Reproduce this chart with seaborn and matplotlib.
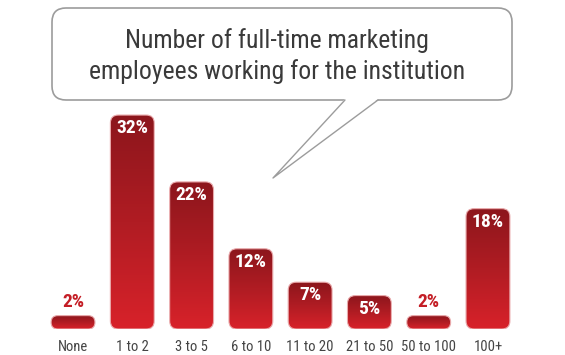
import numpy as np
import pandas as pd
import seaborn as sns
import matplotlib.pyplot as plt
from matplotlib.patches import FancyBboxPatch, Polygon
from matplotlib.colors import LinearSegmentedColormap

categories = ["None", "1 to 2", "3 to 5", "6 to 10", "11 to 20", "21 to 50", "50 to 100", "100+"]
percentValues = [2, 32, 22, 12, 7, 5, 2, 18]
percentLabels = ["2%", "32%", "22%", "12%", "7%", "5%", "2%", "18%"]
titleLines = "Number of full-time marketing\nemployees working for the institution"

narrowFont = ["Roboto Condensed", "DejaVu Sans"]
figW, figH = 565, 355
dpi = 100

sns.set_theme(style = "white")
plt.rcParams["font.family"] = narrowFont

dataFrame = pd.DataFrame({"category" : categories, "percent" : percentValues})

fig = plt.figure(figsize = (figW / dpi, figH / dpi), dpi = dpi)

# bar axes, placed in pixels
axLeft, axRight = 43.4, 517.6
axBottom = 329
axHeightPx = 234
yMax = 35
ax = fig.add_axes([axLeft / figW, 1 - axBottom / figH, (axRight - axLeft) / figW, axHeightPx / figH])

sns.barplot(data = dataFrame, x = "category", y = "percent", ax = ax, width = 0.74, color = "#c01f26")
ax.set_xlim(-0.5, len(categories) - 0.5)
ax.set_ylim(0, yMax)
ax.set_xlabel("")
ax.set_ylabel("")
ax.set_yticks([])
for spine in ax.spines.values() :
    spine.set_visible(False)
ax.tick_params(axis = "x", length = 0, pad = 8, labelsize = 10.5, labelcolor = "#444444")
ax.patch.set_alpha(0)

pxPerX = (axRight - axLeft) / len(categories)
pxPerY = axHeightPx / yMax
gradientMap = LinearSegmentedColormap.from_list("barRed", ["#8c161c", "#b01c23", "#d8222a"])
gradientImage = np.linspace(0, 1, 256).reshape(-1, 1)

for barPatch, labelText, value in zip(list(ax.patches), percentLabels, percentValues) :
    x0 = barPatch.get_x()
    w = barPatch.get_width()
    h = barPatch.get_height()
    barPatch.set_visible(False)
    radiusPx = min(8, h * pxPerY / 2)
    roundX = radiusPx / pxPerX
    shape = FancyBboxPatch((x0, 0), w, h,
                           boxstyle = f"round,pad=0,rounding_size={roundX}",
                           mutation_aspect = pxPerX / pxPerY,
                           facecolor = "none", edgecolor = "#e9a9ab", linewidth = 0.8, zorder = 3)
    ax.add_patch(shape)
    img = ax.imshow(gradientImage, cmap = gradientMap, aspect = "auto",
                    extent = (x0, x0 + w, 0, h), origin = "upper", zorder = 2)
    img.set_clip_path(shape)

    xc = x0 + w / 2
    if value <= 3 :
        ax.annotate(labelText, (xc, h), xytext = (0, 9.5), textcoords = "offset points",
                    ha = "center", va = "center", color = "#c41e26", fontsize = 14,
                    fontweight = "bold", zorder = 4)
    else :
        ax.annotate(labelText, (xc, h), xytext = (0, -9.5), textcoords = "offset points",
                    ha = "center", va = "center", color = "white", fontsize = 14,
                    fontweight = "bold", zorder = 4)

ax.set_xlim(-0.5, len(categories) - 0.5)
ax.set_ylim(0, yMax)

# speech bubble overlay in pixel coordinates
overlay = fig.add_axes([0, 0, 1, 1])
overlay.set_xlim(0, figW)
overlay.set_ylim(figH, 0)
overlay.axis("off")
overlay.patch.set_alpha(0)

edgeGray = "#9c9c9c"
bubble = FancyBboxPatch((52, 8), 460, 92, boxstyle = "round,pad=0,rounding_size=14",
                        facecolor = "white", edgecolor = edgeGray, linewidth = 1.2)
overlay.add_patch(bubble)
tailPoints = [(345, 99), (273, 178), (378, 99)]
overlay.add_patch(Polygon(tailPoints, closed = True, facecolor = "white", edgecolor = "none", zorder = 3))
overlay.plot([345, 273, 378], [100, 178, 100], color = edgeGray, linewidth = 1.0, zorder = 4)

overlay.text(277, 56, titleLines, ha = "center", va = "center", fontsize = 18.5,
             color = "#3a3a3a", linespacing = 1.3, zorder = 5)

fig.savefig("out.png", dpi = dpi)
